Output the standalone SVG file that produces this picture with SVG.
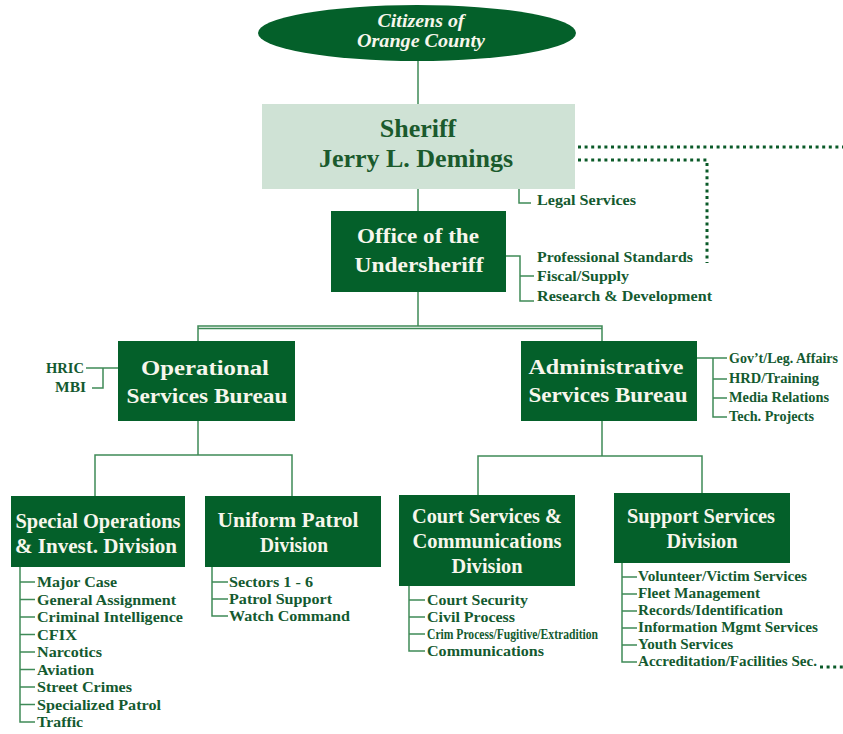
<svg xmlns="http://www.w3.org/2000/svg" width="843" height="734" viewBox="0 0 843 734">
  <style>
    .box { fill: #04602a; }
    .title { font-family: "Liberation Serif", "Times New Roman", serif; font-weight: bold; font-size: 20px; fill: #f7f6ec; text-anchor: middle; }
    .oval { font-style: italic; font-size: 19px; }
    .chief { font-size: 26px; fill: #1b5a2d; }
    .item { font-family: "Liberation Serif", "Times New Roman", serif; font-weight: bold; font-size: 15px; fill: #145a30; }
    .small { font-size: 14px; }
    .narrow { font-size: 14px; }
    .line { fill: none; stroke: #3f8a57; stroke-width: 1.5; }
    .dots { fill: none; stroke: #0a5a28; stroke-width: 3; stroke-dasharray: 3 3.6; }
  </style>
  <rect width="843" height="734" fill="#ffffff"/>

  <!-- connectors -->
  <g id="connectors">
    <path class="line" d="M418,61 V104 M418,189 V211"/>
    <path class="line" d="M519,189 V203 H531"/>
    <path class="line" d="M506,256 H520 V301 H534 M520,276 H534"/>
    <path class="line" d="M418,292 V326 M198,341 V326 H602 V341"/>
    <path class="line" d="M198,328.5 H602" stroke-width="1"/>
    <path class="line" d="M118,368 H86 M103,368 V388 H92"/>
    <path class="line" d="M697,358 H713 V417 H727 M713,358 H727 M713,379 H727 M713,398 H727"/>
    <path class="line" d="M198,421 V455 M95,496 V455 H292 V496"/>
    <path class="line" d="M602,421 V456 M478,495 V456 H702 V493"/>
    <path class="line" d="M20,567 V722 H35 M20,582 H35 M20,599.5 H35 M20,617 H35 M20,634.5 H35 M20,652 H35 M20,669.5 H35 M20,687 H35 M20,704.5 H35"/>
    <path class="line" d="M212,567 V616 H228 M212,582 H228 M212,599 H228"/>
    <path class="line" d="M409,586 V651 H425 M409,600 H425 M409,617 H425 M409,634 H425"/>
    <path class="line" d="M622,563 V662 H637 M622,577 H637 M622,594 H637 M622,611 H637 M622,628 H637 M622,645 H637"/>
    <path class="dots" d="M578,147 H843"/>
    <path class="dots" d="M578,160 H707 V263"/>
    <path class="dots" d="M820,667 H843"/>
  </g>

  <g id="citizens">
    <ellipse cx="417" cy="33" rx="159" ry="28" class="box"/>
    <text class="title oval" x="421" y="27" textLength="87" lengthAdjust="spacingAndGlyphs">Citizens of</text>
    <text class="title oval" x="421" y="47" textLength="128" lengthAdjust="spacingAndGlyphs">Orange County</text>
  </g>

  <g id="sheriff">
    <rect x="262" y="104" width="313" height="85" fill="#cfe2d5"/>
    <text class="title chief" x="418" y="137">Sheriff</text>
    <text class="title chief" x="416" y="167">Jerry L. Demings</text>
  </g>

  <g id="legal">
    <text class="item" x="537" y="205" textLength="99" lengthAdjust="spacingAndGlyphs">Legal Services</text>
  </g>

  <g id="undersheriff">
    <rect x="331" y="211" width="175" height="81" class="box"/>
    <text class="title" x="418" y="243" textLength="122" lengthAdjust="spacingAndGlyphs">Office of the</text>
    <text class="title" x="419" y="272" textLength="129" lengthAdjust="spacingAndGlyphs">Undersheriff</text>
  </g>

  <g id="undersheriff-staff">
    <text class="item" x="537" y="262" textLength="156" lengthAdjust="spacingAndGlyphs">Professional Standards</text>
    <text class="item" x="537" y="281" textLength="92" lengthAdjust="spacingAndGlyphs">Fiscal/Supply</text>
    <text class="item" x="537" y="301" textLength="175" lengthAdjust="spacingAndGlyphs">Research &amp; Development</text>
  </g>

  <g id="operational">
    <rect x="118" y="341" width="177" height="80" class="box"/>
    <text class="title" x="205" y="375" textLength="128" lengthAdjust="spacingAndGlyphs">Operational</text>
    <text class="title" x="207" y="403" textLength="161" lengthAdjust="spacingAndGlyphs">Services Bureau</text>
  </g>

  <g id="operational-staff">
    <text class="item" x="84" y="373" text-anchor="end" textLength="38" lengthAdjust="spacingAndGlyphs">HRIC</text>
    <text class="item" x="86" y="392" text-anchor="end" textLength="31" lengthAdjust="spacingAndGlyphs">MBI</text>
  </g>

  <g id="administrative">
    <rect x="521" y="341" width="176" height="80" class="box"/>
    <text class="title" x="606" y="374" textLength="155" lengthAdjust="spacingAndGlyphs">Administrative</text>
    <text class="title" x="608" y="402" textLength="159" lengthAdjust="spacingAndGlyphs">Services Bureau</text>
  </g>

  <g id="administrative-staff">
    <text class="item small" x="729" y="363" textLength="109" lengthAdjust="spacingAndGlyphs">Gov’t/Leg. Affairs</text>
    <text class="item small" x="729" y="383" textLength="90" lengthAdjust="spacingAndGlyphs">HRD/Training</text>
    <text class="item small" x="729" y="402" textLength="100" lengthAdjust="spacingAndGlyphs">Media Relations</text>
    <text class="item small" x="729" y="421" textLength="85" lengthAdjust="spacingAndGlyphs">Tech. Projects</text>
  </g>

  <g id="special-operations">
    <rect x="11" y="496" width="174" height="71" class="box"/>
    <text class="title" x="98" y="528" textLength="165" lengthAdjust="spacingAndGlyphs">Special Operations</text>
    <text class="title" x="96" y="553" textLength="162" lengthAdjust="spacingAndGlyphs">&amp; Invest. Division</text>
    <text class="item" x="37" y="587" textLength="80" lengthAdjust="spacingAndGlyphs">Major Case</text>
    <text class="item" x="37" y="604.5" textLength="139" lengthAdjust="spacingAndGlyphs">General Assignment</text>
    <text class="item" x="37" y="622" textLength="146" lengthAdjust="spacingAndGlyphs">Criminal Intelligence</text>
    <text class="item" x="37" y="639.5" textLength="40" lengthAdjust="spacingAndGlyphs">CFIX</text>
    <text class="item" x="37" y="657" textLength="65" lengthAdjust="spacingAndGlyphs">Narcotics</text>
    <text class="item" x="37" y="674.5" textLength="57" lengthAdjust="spacingAndGlyphs">Aviation</text>
    <text class="item" x="37" y="692" textLength="95" lengthAdjust="spacingAndGlyphs">Street Crimes</text>
    <text class="item" x="37" y="709.5" textLength="124" lengthAdjust="spacingAndGlyphs">Specialized Patrol</text>
    <text class="item" x="37" y="727" textLength="46" lengthAdjust="spacingAndGlyphs">Traffic</text>
  </g>

  <g id="uniform-patrol">
    <rect x="205" y="496" width="176" height="71" class="box"/>
    <text class="title" x="288" y="527" textLength="141" lengthAdjust="spacingAndGlyphs">Uniform Patrol</text>
    <text class="title" x="294" y="552" textLength="68" lengthAdjust="spacingAndGlyphs">Division</text>
    <text class="item" x="229" y="587" textLength="84" lengthAdjust="spacingAndGlyphs">Sectors 1 - 6</text>
    <text class="item" x="229" y="604" textLength="103" lengthAdjust="spacingAndGlyphs">Patrol Support</text>
    <text class="item" x="229" y="621" textLength="121" lengthAdjust="spacingAndGlyphs">Watch Command</text>
  </g>

  <g id="court-services">
    <rect x="399" y="495" width="176" height="91" class="box"/>
    <text class="title" x="487" y="523" textLength="150" lengthAdjust="spacingAndGlyphs">Court Services &amp;</text>
    <text class="title" x="487" y="548" textLength="149" lengthAdjust="spacingAndGlyphs">Communications</text>
    <text class="title" x="487" y="573" textLength="71" lengthAdjust="spacingAndGlyphs">Division</text>
    <text class="item" x="427" y="605" textLength="101" lengthAdjust="spacingAndGlyphs">Court Security</text>
    <text class="item" x="427" y="622" textLength="88" lengthAdjust="spacingAndGlyphs">Civil Process</text>
    <text class="item narrow" x="427" y="639" textLength="171" lengthAdjust="spacingAndGlyphs">Crim Process/Fugitive/Extradition</text>
    <text class="item" x="427" y="656" textLength="117" lengthAdjust="spacingAndGlyphs">Communications</text>
  </g>

  <g id="support-services">
    <rect x="614" y="493" width="176" height="70" class="box"/>
    <text class="title" x="701" y="523" textLength="148" lengthAdjust="spacingAndGlyphs">Support Services</text>
    <text class="title" x="702" y="548" textLength="71" lengthAdjust="spacingAndGlyphs">Division</text>
    <text class="item" x="638" y="581" textLength="169" lengthAdjust="spacingAndGlyphs">Volunteer/Victim Services</text>
    <text class="item" x="638" y="598" textLength="122" lengthAdjust="spacingAndGlyphs">Fleet Management</text>
    <text class="item" x="638" y="615" textLength="145" lengthAdjust="spacingAndGlyphs">Records/Identification</text>
    <text class="item" x="638" y="632" textLength="180" lengthAdjust="spacingAndGlyphs">Information Mgmt Services</text>
    <text class="item" x="638" y="649" textLength="95" lengthAdjust="spacingAndGlyphs">Youth Services</text>
    <text class="item" x="638" y="666" textLength="179" lengthAdjust="spacingAndGlyphs">Accreditation/Facilities Sec.</text>
  </g>
</svg>
